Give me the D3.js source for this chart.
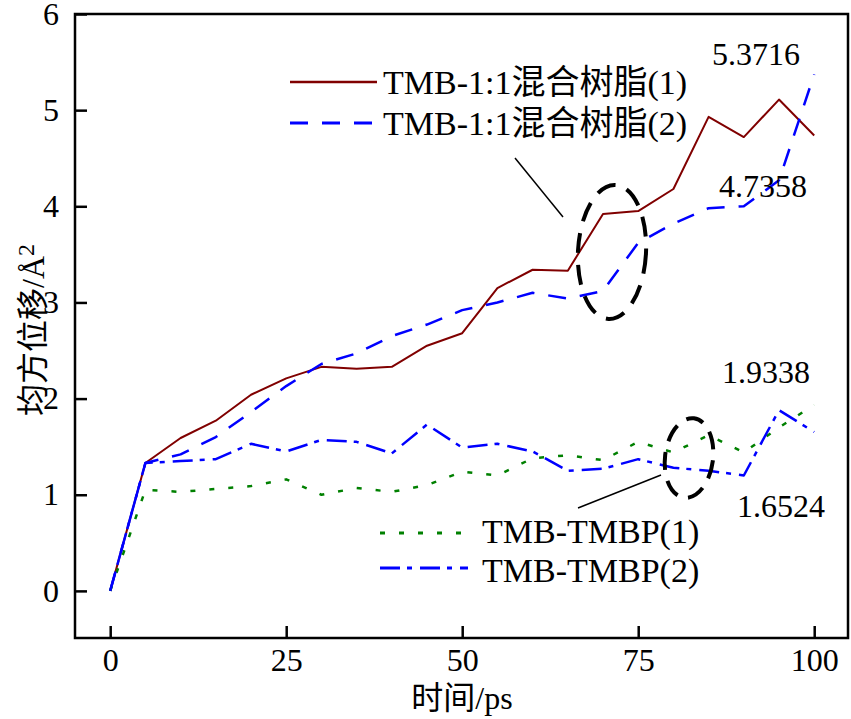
<!DOCTYPE html>
<html>
<head>
<meta charset="utf-8">
<script src="https://cdn.jsdelivr.net/npm/d3@7/dist/d3.min.js"></script>
<style>
  html, body { margin: 0; padding: 0; background: #fff; }
  svg { display: block; }
  text { font-family: "Liberation Serif", "Noto Sans CJK SC", serif; fill: #000; }
</style>
</head>
<body>
<svg id="chart" width="851" height="719"></svg>
<script>
// ---------- data ----------
const time = [0, 5, 10, 15, 20, 25, 30, 35, 40, 45, 50, 55, 60, 65, 70, 75, 80, 85, 90, 95, 100];
const resin1 = [0, 1.33, 1.59, 1.77, 2.04, 2.21, 2.33, 2.31, 2.33, 2.55, 2.68, 3.15, 3.34, 3.33, 3.92, 3.95, 4.18, 4.93, 4.72, 5.11, 4.7358];
const resin2 = [0, 1.33, 1.42, 1.60, 1.86, 2.13, 2.36, 2.47, 2.65, 2.77, 2.92, 3.00, 3.10, 3.04, 3.12, 3.62, 3.82, 3.98, 4.00, 4.27, 5.3716];
const tmbp1  = [0, 1.05, 1.03, 1.06, 1.09, 1.16, 1.00, 1.07, 1.03, 1.10, 1.24, 1.20, 1.38, 1.41, 1.36, 1.55, 1.44, 1.62, 1.44, 1.70, 1.9338];
const tmbp2  = [0, 1.33, 1.35, 1.37, 1.53, 1.45, 1.57, 1.55, 1.43, 1.73, 1.49, 1.53, 1.45, 1.25, 1.27, 1.37, 1.28, 1.25, 1.20, 1.88, 1.6524];
const xTicks = [0, 25, 50, 75, 100];
const yTicks = [0, 1, 2, 3, 4, 5, 6];
const seriesNames = ["TMB-1:1混合树脂(1)", "TMB-1:1混合树脂(2)", "TMB-TMBP(1)", "TMB-TMBP(2)"];
const annotations = [
  {text: "5.3716", x: 712, y: 65},
  {text: "4.7358", x: 719, y: 197},
  {text: "1.9338", x: 722, y: 383},
  {text: "1.6524", x: 737, y: 517}
];
const xLabel = "时间/ps";
const yLabelMain = "均方位移/Å";

// ---------- layout ----------
const svg = d3.select("#chart");
const L = 75, R = 848, T = 14, B = 638;
const x = d3.scaleLinear().domain([-5, 104.8]).range([L, R]);
const y = d3.scaleLinear().domain([-0.49, 6]).range([B, T]);

const styles = [
  {data: resin1, color: "#800000", dash: null, width: 2},
  {data: resin2, color: "#0000ff", dash: "18,14", width: 2.5},
  {data: tmbp1,  color: "#008000", dash: "5,14", width: 2.5},
  {data: tmbp2,  color: "#0000ff", dash: "20,7,5,8", width: 2.5}
];

const line = d3.line().x((d, i) => x(time[i])).y(d => y(d));

// series
styles.forEach(s => {
  svg.append("path")
    .datum(s.data)
    .attr("fill", "none")
    .attr("stroke", s.color)
    .attr("stroke-width", s.width)
    .attr("stroke-dasharray", s.dash)
    .attr("stroke-linejoin", "round")
    .attr("d", line);
});

// axes
const xAxis = d3.axisBottom(x).tickValues(xTicks).tickFormat(d3.format("d")).tickSize(-12).tickSizeOuter(0).tickPadding(10);
const yAxis = d3.axisLeft(y).tickValues(yTicks).tickFormat(d3.format("d")).tickSize(-12).tickSizeOuter(0).tickPadding(16);
const gx = svg.append("g").attr("transform", `translate(0,${B})`).call(xAxis);
const gy = svg.append("g").attr("transform", `translate(${L},0)`).call(yAxis);
[gx, gy].forEach(g => {
  g.select(".domain").remove();
  g.selectAll(".tick line").attr("stroke", "#000").attr("stroke-width", 2.5);
  g.selectAll(".tick text").attr("font-family", "Liberation Serif").attr("font-size", 32).attr("fill", "#000");
});

// frame
svg.append("rect")
  .attr("x", L).attr("y", T).attr("width", R - L).attr("height", B - T)
  .attr("fill", "none").attr("stroke", "#000").attr("stroke-width", 2.5);

// axis titles
svg.append("text")
  .attr("x", 462).attr("y", 709)
  .attr("text-anchor", "middle")
  .attr("font-size", 32)
  .text(xLabel);

const yl = svg.append("text")
  .attr("transform", "translate(44,330) rotate(-90)")
  .attr("text-anchor", "middle")
  .attr("font-size", 32);
yl.append("tspan").text(yLabelMain);
yl.append("tspan").attr("font-size", 24).attr("dy", -10).text("2");

// annotations
annotations.forEach(a => {
  svg.append("text").attr("x", a.x).attr("y", a.y).attr("font-size", 32).text(a.text);
});

// ellipses + leader lines
svg.append("ellipse")
  .attr("transform", "translate(612,252) rotate(3)")
  .attr("rx", 34).attr("ry", 67)
  .attr("fill", "none").attr("stroke", "#000").attr("stroke-width", 4)
  .attr("stroke-dasharray", "20,12");
svg.append("line").attr("x1", 515).attr("y1", 158).attr("x2", 563).attr("y2", 217)
  .attr("stroke", "#000").attr("stroke-width", 1.5);

svg.append("ellipse")
  .attr("transform", "translate(689,458) rotate(7)")
  .attr("rx", 24).attr("ry", 40)
  .attr("fill", "none").attr("stroke", "#000").attr("stroke-width", 4)
  .attr("stroke-dasharray", "18,11");
svg.append("line").attr("x1", 578).attr("y1", 508).attr("x2", 661).attr("y2", 475)
  .attr("stroke", "#000").attr("stroke-width", 1.5);

// legends
const legendPos = [
  {x1: 290, x2: 377, ly: 82, tx: 383, ty: 94},
  {x1: 290, x2: 377, ly: 123, tx: 383, ty: 135},
  {x1: 380, x2: 468, ly: 533, tx: 482, ty: 543},
  {x1: 380, x2: 468, ly: 568, tx: 482, ty: 582}
];
legendPos.forEach((p, i) => {
  const s = styles[i];
  svg.append("line")
    .attr("x1", p.x1).attr("x2", p.x2).attr("y1", p.ly).attr("y2", p.ly)
    .attr("stroke", s.color).attr("stroke-width", s.width + 0.5)
    .attr("stroke-dasharray", s.dash);
  svg.append("text").attr("x", p.tx).attr("y", p.ty).attr("font-size", 34).text(seriesNames[i]);
});
</script>
</body>
</html>
